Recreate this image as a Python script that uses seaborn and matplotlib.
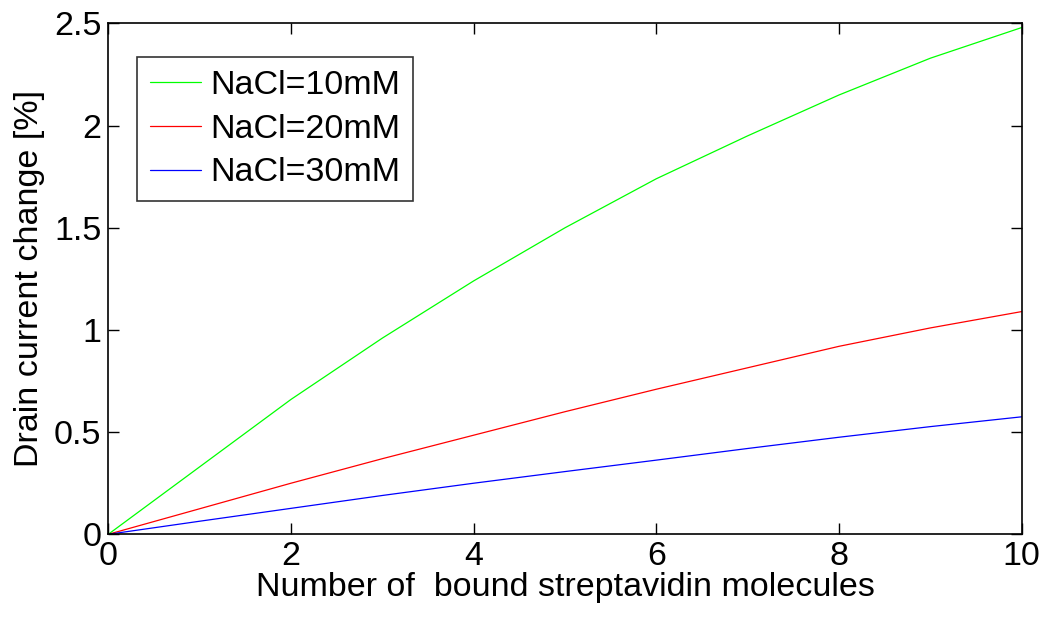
# IMPORT MODULES
import matplotlib
matplotlib.use("Agg")
import matplotlib.pyplot as plt
import seaborn as sns
import pandas as pd

# DATA
molecules = [0, 1, 2, 3, 4, 5, 6, 7, 8, 9, 10]
nacl_10 = [0, 0.33, 0.66, 0.96, 1.24, 1.50, 1.74, 1.95, 2.15, 2.33, 2.48]
nacl_20 = [0, 0.125, 0.25, 0.37, 0.485, 0.60, 0.71, 0.815, 0.92, 1.01, 1.09]
nacl_30 = [0, 0.064, 0.127, 0.19, 0.25, 0.307, 0.363, 0.42, 0.475, 0.527, 0.575]
labels = ["NaCl=10mM", "NaCl=20mM", "NaCl=30mM"]
colors = ["#00ff00", "#ff0000", "#0000ff"]

# LONG TABLE FOR SEABORN
df = pd.DataFrame({
    "x": molecules * 3,
    "y": nacl_10 + nacl_20 + nacl_30,
    "series": [labels[0]] * 11 + [labels[1]] * 11 + [labels[2]] * 11,
})

sns.set_style("ticks")
plt.rcParams["font.family"] = ["Liberation Sans", "DejaVu Sans"]
plt.rcParams["text.color"] = "black"
plt.rcParams["axes.labelcolor"] = "black"
plt.rcParams["xtick.color"] = "black"
plt.rcParams["ytick.color"] = "black"

FS = 24.5

fig = plt.figure(figsize=(10.44, 6.21), dpi=100)
ax = fig.add_axes([0.1037, 0.1396, 0.8749, 0.8226])

sns.lineplot(data=df, x="x", y="y", hue="series", palette=colors,
             linewidth=0.9, ax=ax)

ax.set_xlim(0, 10)
ax.set_ylim(0, 2.5)
ax.set_xticks([0, 2, 4, 6, 8, 10])
ax.set_yticks([0, 0.5, 1, 1.5, 2, 2.5])
ax.set_yticklabels(["0", "0.5", "1", "1.5", "2", "2.5"])
ax.tick_params(direction="in", length=8, width=1, labelsize=FS,
               top=True, right=True, pad=5)
for s in ax.spines.values():
    s.set_visible(True)
    s.set_linewidth(1.2)
    s.set_color("black")

ax.set_xlabel("Number of  bound streptavidin molecules", fontsize=FS, labelpad=0)
ax.set_ylabel("Drain current change [%]", fontsize=FS, labelpad=6)

leg = ax.legend(loc="upper left", bbox_to_anchor=(0.031, 0.935), fontsize=FS,
                frameon=True, fancybox=False, handlelength=1.5,
                handletextpad=0.28, borderpad=0.38, labelspacing=0.38,
                borderaxespad=0)
leg.get_frame().set_edgecolor("black")
leg.get_frame().set_linewidth(1.2)
for line in leg.get_lines():
    line.set_linewidth(0.9)

fig.savefig("out.png", dpi=100)
